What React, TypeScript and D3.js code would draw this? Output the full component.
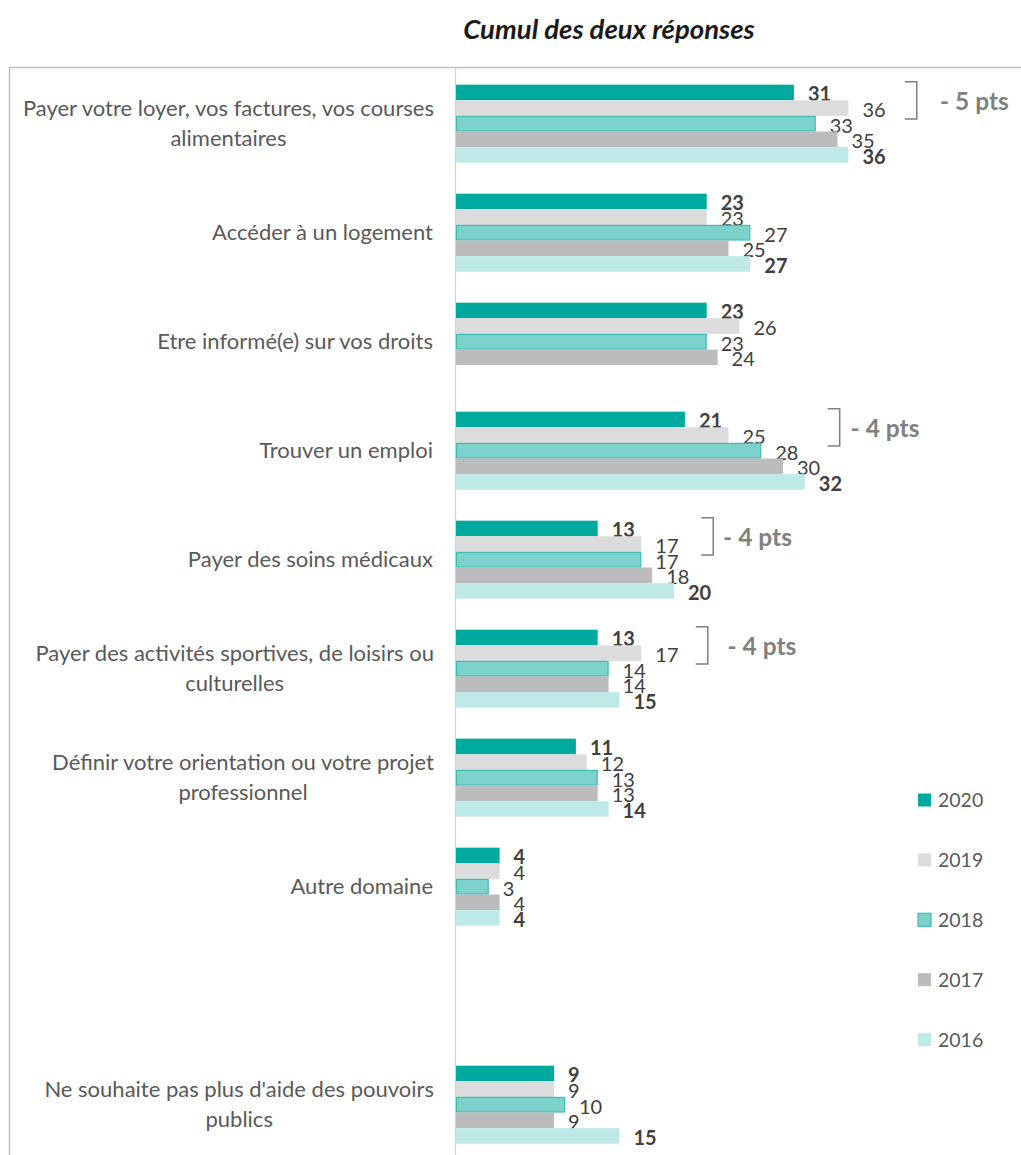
import { useRef, useEffect } from "react";
import * as d3 from "d3";

const categoryLabels: string[][] = [
  ["Payer votre loyer, vos factures, vos courses", "alimentaires"],
  ["Accéder à un logement"],
  ["Etre informé(e) sur vos droits"],
  ["Trouver un emploi"],
  ["Payer des soins médicaux"],
  ["Payer des activités sportives, de loisirs ou", "culturelles"],
  ["Définir votre orientation ou votre projet", "professionnel"],
  ["Autre domaine"],
  [],
  ["Ne souhaite pas plus d'aide des pouvoirs", "publics"],
];

const years = ["2020", "2019", "2018", "2017", "2016"];

const values2020 = [31, 23, 23, 21, 13, 13, 11, 4, null, 9];
const values2019 = [36, 23, 26, 25, 17, 17, 12, 4, null, 9];
const values2018 = [33, 27, 23, 28, 17, 14, 13, 3, null, 10];
const values2017 = [35, 25, 24, 30, 18, 14, 13, 4, null, 9];
const values2016 = [36, 27, null, 32, 20, 15, 14, 4, null, 15];

const seriesValues = [values2020, values2019, values2018, values2017, values2016];

// evolution notes: category index, text, bracket and label position (in %)
const notes = [
  { cat: 0, text: "- 5 pts", bracketAt: 42.27, labelAt: 44.4 },
  { cat: 3, text: "- 4 pts", bracketAt: 35.2, labelAt: 36.2 },
  { cat: 4, text: "- 4 pts", bracketAt: 23.6, labelAt: 24.5 },
  { cat: 5, text: "- 4 pts", bracketAt: 23.1, labelAt: 24.9 },
];

const fills = ["#00a99d", "#dcdcdc", "#7dd3cb", "#bcbcbc", "#bfe9e6"];
const strokes = ["none", "none", "#3fbcb0", "none", "none"];
const boldYears = ["2020", "2016"];

const FONT = "Lato, 'Open Sans', sans-serif";

const Chart = () => {
  const ref = useRef<SVGSVGElement>(null);

  useEffect(() => {
    const svg = d3.select(ref.current);
    svg.selectAll("*").remove();

    const x = d3.scaleLinear().domain([0, 50]).range([456, 456 + 545]);
    const y0 = d3
      .scaleBand<number>()
      .domain(d3.range(categoryLabels.length))
      .range([69.2, 1159.2])
      .paddingInner(0.284)
      .paddingOuter(0.142);
    const y1 = d3.scaleBand<string>().domain(years).range([0, y0.bandwidth()]);

    // title
    svg
      .append("text")
      .attr("x", 609)
      .attr("y", 39)
      .attr("text-anchor", "middle")
      .attr("font-family", FONT)
      .attr("font-size", 27.5)
      .attr("font-weight", "bold")
      .attr("font-style", "italic")
      .attr("fill", "#1a1a1a")
      .text("Cumul des deux réponses");

    // frame
    svg
      .append("rect")
      .attr("x", 9.5)
      .attr("y", 67.5)
      .attr("width", 1100)
      .attr("height", 1200)
      .attr("fill", "none")
      .attr("stroke", "#bfbfbf")
      .attr("stroke-width", 1.5);

    // category axis line
    svg
      .append("line")
      .attr("x1", x(0) - 0.5)
      .attr("x2", x(0) - 0.5)
      .attr("y1", 68)
      .attr("y2", 1155)
      .attr("stroke", "#d4d4d4")
      .attr("stroke-width", 1.3);

    // category labels
    categoryLabels.forEach((lines, i) => {
      if (!lines.length) return;
      const cy = (y0(i) as number) + y0.bandwidth() / 2;
      const fs = 22;
      const lh = 30;
      const g = svg
        .append("g")
        .attr("font-family", FONT)
        .attr("font-size", fs)
        .attr("fill", "#595959");
      const texts = lines.map((l, j) =>
        g
          .append("text")
          .attr("y", cy + (j - (lines.length - 1) / 2) * lh + fs * 0.35)
          .text(l)
      );
      if (lines.length === 1) {
        texts[0].attr("x", 433).attr("text-anchor", "end");
      } else {
        const w = d3.max(texts, t => (t.node() as SVGTextElement).getComputedTextLength()) as number;
        texts.forEach(t => t.attr("x", 434 - w / 2).attr("text-anchor", "middle"));
      }
    });

    // bars
    years.forEach((yr, s) => {
      const vals = seriesValues[s];
      const g = svg.append("g");
      vals.forEach((v, i) => {
        if (v === null) return;
        const yy = (y0(i) as number) + (y1(yr) as number);
        const hasStroke = strokes[s] !== "none";
        g.append("rect")
          .attr("x", x(0) + (hasStroke ? 0.5 : 0))
          .attr("y", yy + (hasStroke ? 0.5 : 0))
          .attr("width", x(v) - x(0) - (hasStroke ? 1 : 0))
          .attr("height", y1.bandwidth() - (hasStroke ? 1 : 0))
          .attr("fill", fills[s])
          .attr("stroke", strokes[s])
          .attr("stroke-width", 1.2);
        g.append("text")
          .attr("x", x(v) + 14)
          .attr("y", yy + y1.bandwidth() / 2 + 2 + 7)
          .attr("font-family", FONT)
          .attr("font-size", 20)
          .attr("font-weight", boldYears.includes(yr) ? "bold" : "normal")
          .attr("fill", "#404040")
          .text(v);
      });
    });

    // evolution brackets
    notes.forEach(n => {
      const top = (y0(n.cat) as number) + (y1("2020") as number) - 3;
      const bottom = (y0(n.cat) as number) + (y1("2019") as number) + y1.bandwidth() + 3;
      const bx = x(n.bracketAt);
      svg
        .append("path")
        .attr("d", `M${bx - 12},${top} H${bx} V${bottom} H${bx - 12}`)
        .attr("fill", "none")
        .attr("stroke", "#7f7f7f")
        .attr("stroke-width", 1.5);
      svg
        .append("text")
        .attr("x", x(n.labelAt))
        .attr("y", (y0(n.cat) as number) + (y1("2019") as number) + 1 + 8.5)
        .attr("font-family", FONT)
        .attr("font-size", 24.5)
        .attr("font-weight", "bold")
        .attr("fill", "#808080")
        .text(n.text);
    });

    // legend
    const legend = svg.append("g").attr("font-family", FONT);
    years.forEach((yr, s) => {
      const cy = 800 + s * 59.9;
      legend
        .append("rect")
        .attr("x", 918)
        .attr("y", cy - 6.5)
        .attr("width", 13)
        .attr("height", 13)
        .attr("fill", fills[s])
        .attr("stroke", strokes[s])
        .attr("stroke-width", 1.2);
      legend
        .append("text")
        .attr("x", 938)
        .attr("y", cy + 7)
        .attr("font-size", 19.5)
        .attr("fill", "#595959")
        .text(yr);
    });
  }, []);

  return (
    <svg
      ref={ref}
      width={1021}
      height={1155}
      style={{ position: "absolute", left: 0, top: 0, background: "#fff" }}
    />
  );
};

export default function App() {
  return <Chart />;
}
